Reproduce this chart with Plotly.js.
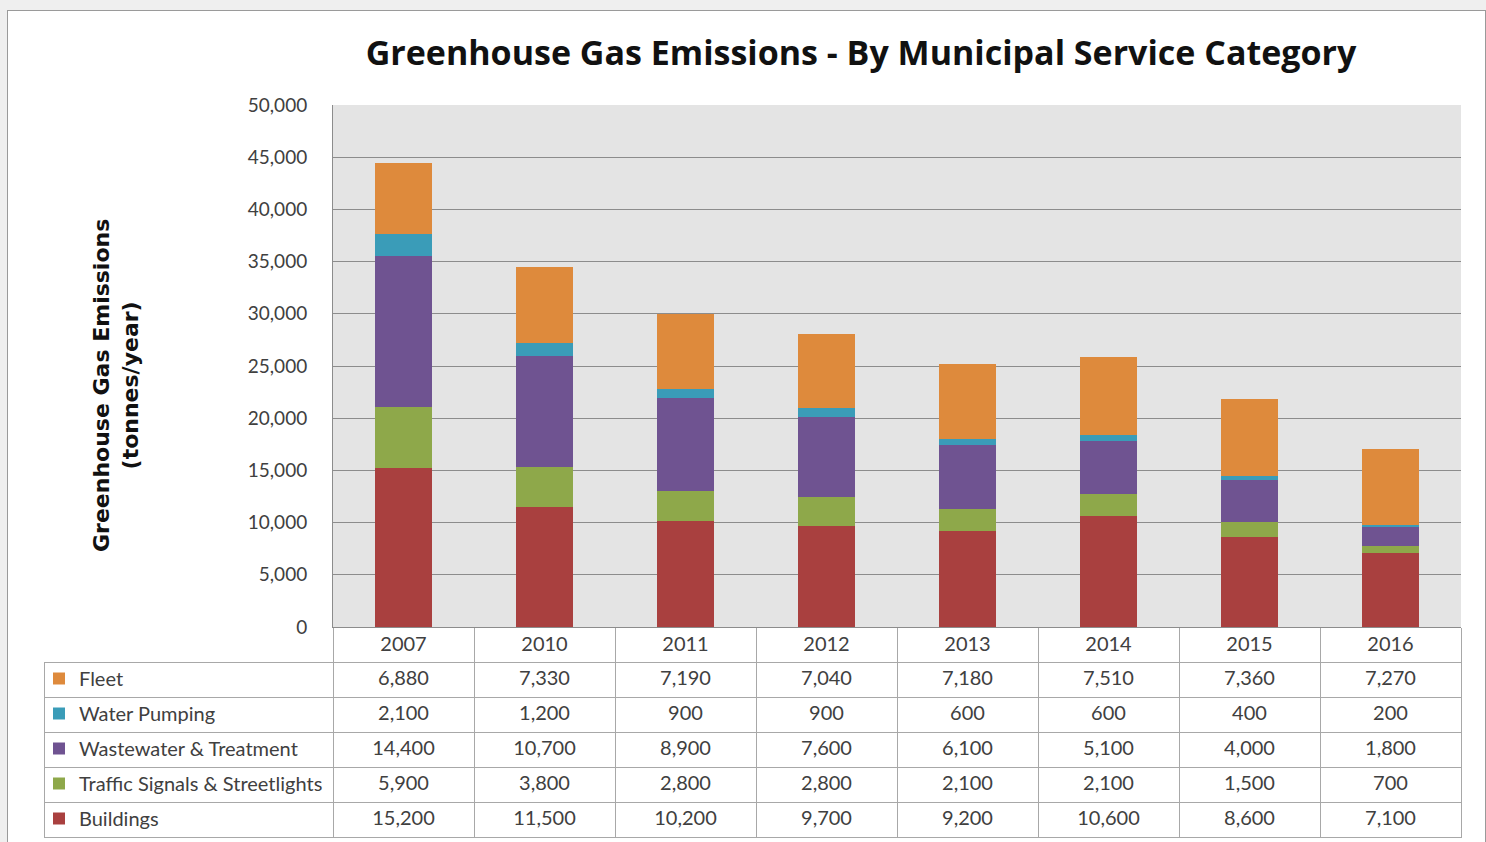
<!DOCTYPE html>
<html>
<head>
<meta charset="utf-8">
<script src="https://cdn.plot.ly/plotly-3.0.1.min.js"></script>
<style>
  html, body { margin: 0; padding: 0; background: #efefef; width: 1486px; height: 842px; overflow: hidden; }
  #frame { position: absolute; left: 7px; top: 10px; width: 1477px; height: 840px; background: #ffffff; border: 1px solid #9a9a9a; }
  #chart { position: absolute; left: 0; top: 0; width: 1486px; height: 842px; }
</style>
</head>
<body>
<div id="frame"></div>
<div id="chart"></div>
<script>
const years = ['2007', '2010', '2011', '2012', '2013', '2014', '2015', '2016'];
const buildings = [15200, 11500, 10200, 9700, 9200, 10600, 8600, 7100];
const traffic = [5900, 3800, 2800, 2800, 2100, 2100, 1500, 700];
const wastewater = [14400, 10700, 8900, 7600, 6100, 5100, 4000, 1800];
const water = [2100, 1200, 900, 900, 600, 600, 400, 200];
const fleet = [6880, 7330, 7190, 7040, 7180, 7510, 7360, 7270];
const seriesNames = ['Buildings', 'Traffic Signals & Streetlights', 'Wastewater & Treatment', 'Water Pumping', 'Fleet'];
const seriesColors = ['#a9403f', '#8ea84a', '#6f5391', '#3a9cb8', '#de8a3c'];
const yTickVals = [0, 5000, 10000, 15000, 20000, 25000, 30000, 35000, 40000, 45000, 50000];
const chartTitle = 'Greenhouse Gas Emissions - By Municipal Service Category';
const yTitle = 'Greenhouse Gas Emissions<br>(tonnes/year)';

const seriesData = [buildings, traffic, wastewater, water, fleet];

// The legend (one group per series) provides the coloured keys + names in the table's first column
const barTraces = seriesData.map((vals, i) => ({
  type: 'bar',
  name: seriesNames[i],
  legendgroup: 'g' + i,
  legendrank: 10 - i,
  x: years,
  y: vals,
  marker: { color: seriesColors[i], line: { width: 0 } },
  xaxis: 'x',
  yaxis: 'y',
  hoverinfo: 'skip'
}));

// table rows top-to-bottom: Fleet, Water, Wastewater, Traffic, Buildings
const rowOrder = [4, 3, 2, 1, 0];
const labelCol = rowOrder.map(() => '');
const yearCols = years.map((yr, c) => rowOrder.map(i => seriesData[i][c]));

const allCols = [labelCol].concat(yearCols);
const colAlign = ['left'].concat(years.map(() => 'center'));
const colFormat = [''].concat(years.map(() => ','));
const tableFont = { family: 'Lato', size: 20, color: '#404040' };
const tableLine = { color: '#a8a8a8', width: 1 };

const tableTrace = {
  type: 'table',
  domain: { x: [0, 1], y: [0, 176 / 733] },
  columnwidth: [289].concat(years.map(() => 141)),
  header: {
    values: allCols.map(col => [col[0]]),
    format: colFormat,
    height: 35,
    align: colAlign,
    font: tableFont,
    line: tableLine,
    fill: { color: 'rgba(255,255,255,0)' }
  },
  cells: {
    values: allCols.map(col => col.slice(1)),
    format: colFormat,
    height: 35,
    align: colAlign,
    font: tableFont,
    line: tableLine,
    fill: { color: 'rgba(255,255,255,0)' }
  },
  hoverinfo: 'skip'
};

const layout = {
  width: 1486,
  height: 842,
  margin: { l: 44, r: 25, t: 105, b: 4 },
  paper_bgcolor: 'rgba(0,0,0,0)',
  plot_bgcolor: '#e4e4e4',
  barmode: 'stack',
  bargap: 0.595,
  showlegend: true,
  hovermode: false,
  legend: {
    traceorder: 'grouped',
    orientation: 'v',
    xref: 'paper',
    yref: 'paper',
    x: -5 / 1417,
    xanchor: 'left',
    y: (838 - 659) / 733,
    yanchor: 'top',
    tracegroupgap: 6,
    itemwidth: 30,
    bgcolor: 'rgba(0,0,0,0)',
    borderwidth: 0,
    font: { family: 'Lato', size: 20, color: '#404040' }
  },
  title: {
    text: chartTitle,
    font: { family: 'Open Sans', size: 34, weight: 700, color: '#111111' },
    x: 861 / 1486,
    xanchor: 'center',
    y: 1 - 53 / 842,
    yanchor: 'middle'
  },
  xaxis: {
    type: 'category',
    domain: [289 / 1417, 1],
    tickson: 'boundaries',
    ticks: 'outside',
    ticklen: 35,
    tickcolor: '#a8a8a8',
    tickwidth: 1,
    showline: true,
    linecolor: '#8c8c8c',
    showgrid: false,
    ticklabelstandoff: -1,
    tickfont: { family: 'Lato', size: 20, color: '#404040' },
    fixedrange: true
  },
  yaxis: {
    domain: [211 / 733, 1],
    range: [0, 50000],
    tickvals: yTickVals,
    tickformat: ',',
    ticks: '',
    ticklabelstandoff: 21,
    showline: true,
    linecolor: '#8c8c8c',
    gridcolor: '#8c8c8c',
    gridwidth: 1,
    zeroline: false,
    tickfont: { family: 'Lato', size: 19, color: '#404040' },
    fixedrange: true
  },
  annotations: [{
    text: yTitle,
    textangle: -90,
    xref: 'paper',
    yref: 'paper',
    x: (116 - 44) / 1417,
    y: (838 - 386) / 733,
    xanchor: 'center',
    yanchor: 'middle',
    showarrow: false,
    font: { family: 'DejaVu Sans', size: 22, weight: 700, color: '#111111' }
  }]
};

Plotly.newPlot('chart', barTraces.concat([tableTrace]), layout, { displayModeBar: false, staticPlot: true });
</script>
</body>
</html>
